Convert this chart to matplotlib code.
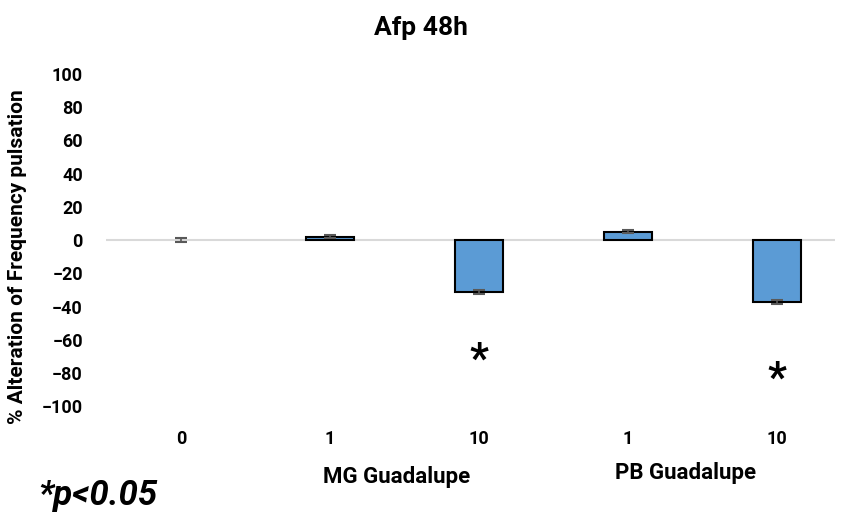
import numpy as np
import matplotlib
matplotlib.use("Agg")
import matplotlib.pyplot as plt

plt.rcParams["font.family"] = ["Roboto", "DejaVu Sans"]

# data
doses = ["0", "1", "10", "1", "10"]
values = [0.0, 2.0, -31.0, 5.0, -37.5]
errors = [1.0, 1.0, 1.2, 1.0, 1.2]
signif = [False, False, True, False, True]
star_y = [None, None, -72, None, -84]
groups = ["MG Guadalupe", "PB Guadalupe"]

fig = plt.figure(figsize=(8.41, 5.18), dpi=100)
ax = fig.add_axes([0.1266, 0.216, 0.866, 0.641])

x = np.arange(len(values))
# a zero-height bar shows no outline in the original
edge_w = [0 if v == 0 else 1.5 for v in values]
ax.bar(x, values, width=0.32, color="#5B9BD5", edgecolor="black", linewidth=edge_w, zorder=3)
ax.errorbar(x, values, yerr=errors, fmt="none", ecolor="#595959", elinewidth=1.2,
            capsize=4, capthick=1.5, zorder=4)
ax.axhline(0, color="#D9D9D9", linewidth=1.5, zorder=1)

for xi, s, sy in zip(x, signif, star_y):
    if s:
        ax.text(xi, sy, "*", ha="center", va="center", fontsize=30, fontweight="bold")

ax.set_xlim(-0.5, 4.39)
ax.set_ylim(-100, 100)
ax.set_yticks(np.arange(-100, 101, 20))
ax.set_xticks(x)
ax.set_xticklabels(doses)
ax.tick_params(axis="both", length=0, labelsize=13)
ax.tick_params(axis="x", pad=17)
ax.tick_params(axis="y", pad=17)
for lbl in ax.get_xticklabels() + ax.get_yticklabels():
    lbl.set_fontweight("bold")
for sp in ax.spines.values():
    sp.set_visible(False)

# y title sits a bit lower than the axis middle in the original
fig.text(0.0214, 0.504, "% Alteration of Frequency pulsation", rotation=90,
         ha="center", va="center", fontsize=15, fontweight="bold")
fig.text(0.5, 0.945, "Afp 48h", ha="center", va="center", fontsize=19, fontweight="bold")

# group labels under the dose ticks
fig.text(0.472, 0.079, groups[0], ha="center", va="center", fontsize=16, fontweight="bold")
fig.text(0.815, 0.087, groups[1], ha="center", va="center", fontsize=16, fontweight="bold")

fig.text(0.045, 0.044, "*p<0.05", ha="left", va="center", fontsize=25,
         fontweight="bold", fontstyle="italic")

fig.savefig("out.png", dpi=100)
